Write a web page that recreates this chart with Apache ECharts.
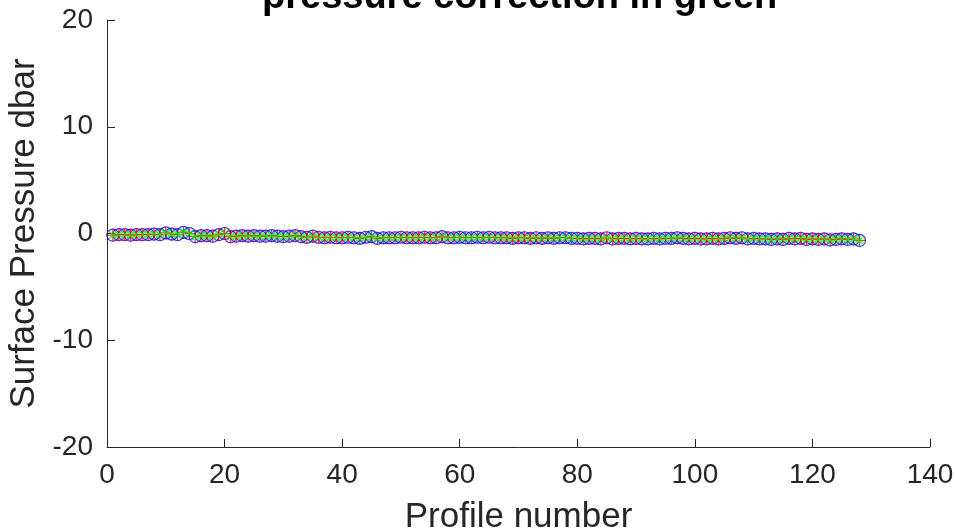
<!DOCTYPE html>
<html>
<head>
<meta charset="utf-8">
<script src="https://cdn.jsdelivr.net/npm/echarts@6/dist/echarts.min.js"></script>
<style>
  html, body { margin: 0; padding: 0; background: #fff; }
  #chart { width: 956px; height: 531px; }
</style>
</head>
<body>
<div id="chart"></div>
<script>
// surface pressure per profile (dbar)
const surfPres = [
  -0.15, -0.1, -0.1, -0.15, -0.1, -0.1, -0.1, -0.05, -0.1, 0.05,
  -0.05, -0.1, 0.1, 0.0, -0.3, -0.2, -0.2, -0.25, -0.1, 0.0,
  -0.3, -0.25, -0.2, -0.25, -0.2, -0.25, -0.25, -0.2, -0.25, -0.3,
  -0.25, -0.2, -0.3, -0.35, -0.25, -0.35, -0.4, -0.35, -0.4, -0.4,
  -0.35, -0.4, -0.45, -0.35, -0.3, -0.45, -0.4, -0.4, -0.4, -0.35,
  -0.4, -0.4, -0.4, -0.35, -0.4, -0.4, -0.3, -0.4, -0.4, -0.35,
  -0.4, -0.4, -0.35, -0.4, -0.35, -0.4, -0.4, -0.4, -0.45, -0.4,
  -0.4, -0.45, -0.4, -0.45, -0.4, -0.45, -0.4, -0.4, -0.45, -0.45,
  -0.5, -0.45, -0.45, -0.5, -0.4, -0.5, -0.45, -0.45, -0.5, -0.45,
  -0.5, -0.5, -0.45, -0.5, -0.45, -0.45, -0.4, -0.45, -0.5, -0.45,
  -0.5, -0.5, -0.45, -0.5, -0.45, -0.4, -0.45, -0.4, -0.5, -0.45,
  -0.5, -0.5, -0.55, -0.5, -0.55, -0.45, -0.5, -0.45, -0.55, -0.5,
  -0.55, -0.5, -0.6, -0.55, -0.5, -0.55, -0.5, -0.65
];
// corrected values (red +) and correction (green x) sit on the same line
const corrPres = surfPres;
const presCorrection = surfPres;

const xTicks = [0, 20, 40, 60, 80, 100, 120, 140];
const yTicks = [-20, -10, 0, 10, 20];

const axisColor = '#262626';
const font = 'Liberation Sans, Arial, sans-serif';

function pairs(vals) {
  return vals.map((v, i) => [i + 1, v]);
}

const chart = echarts.init(document.getElementById('chart'));
chart.setOption({
  animation: false,
  backgroundColor: '#fff',
  title: {
    text: 'pressure correction in green',
    left: 262,
    top: -21,
    padding: 0,
    textStyle: { fontFamily: font, fontSize: 38, fontWeight: 'bold', color: '#000', lineHeight: 38 }
  },
  grid: { left: 107, right: 26, top: 20, bottom: 84, outerBoundsMode: 'none', containLabel: false },
  xAxis: {
    type: 'value',
    min: xTicks[0], max: xTicks[xTicks.length - 1], interval: 20,
    name: 'Profile number',
    nameLocation: 'middle',
    nameGap: 53,
    nameTextStyle: { fontFamily: font, fontSize: 35, color: axisColor, lineHeight: 35 },
    axisLine: { onZero: false, lineStyle: { color: axisColor, width: 1 } },
    axisTick: { inside: true, length: 8, lineStyle: { color: axisColor } },
    axisLabel: { fontFamily: font, fontSize: 28, color: axisColor, margin: 14, lineHeight: 28 },
    splitLine: { show: false }
  },
  yAxis: {
    type: 'value',
    min: yTicks[0], max: yTicks[yTicks.length - 1], interval: 10,
    name: 'Surface Pressure dbar',
    nameLocation: 'middle',
    nameGap: 57,
    nameTextStyle: { fontFamily: font, fontSize: 35, color: axisColor, lineHeight: 35 },
    axisLine: { show: true, onZero: false, lineStyle: { color: axisColor, width: 1 } },
    axisTick: { show: true, inside: true, length: 8, lineStyle: { color: axisColor } },
    axisLabel: { fontFamily: font, fontSize: 28, color: axisColor, margin: 14 },
    splitLine: { show: false }
  },
  series: [
    {
      name: 'raw',
      type: 'scatter',
      data: pairs(surfPres),
      symbol: 'circle',
      symbolSize: 12,
      itemStyle: { color: 'rgba(0,0,0,0)', borderColor: '#0000ff', borderWidth: 1.2 }
    },
    {
      name: 'corrected',
      type: 'scatter',
      data: pairs(corrPres),
      symbol: 'path://M0,-1L0,1M-1,0L1,0',
      symbolSize: 13,
      itemStyle: { color: 'none', borderColor: '#ff0000', borderWidth: 1.2 }
    },
    {
      name: 'correction',
      type: 'scatter',
      data: pairs(presCorrection),
      symbol: 'path://M-1,-1L1,1M-1,1L1,-1',
      symbolSize: 7,
      itemStyle: { color: 'none', borderColor: '#00ff00', borderWidth: 1.5 }
    }
  ]
});
</script>
</body>
</html>
